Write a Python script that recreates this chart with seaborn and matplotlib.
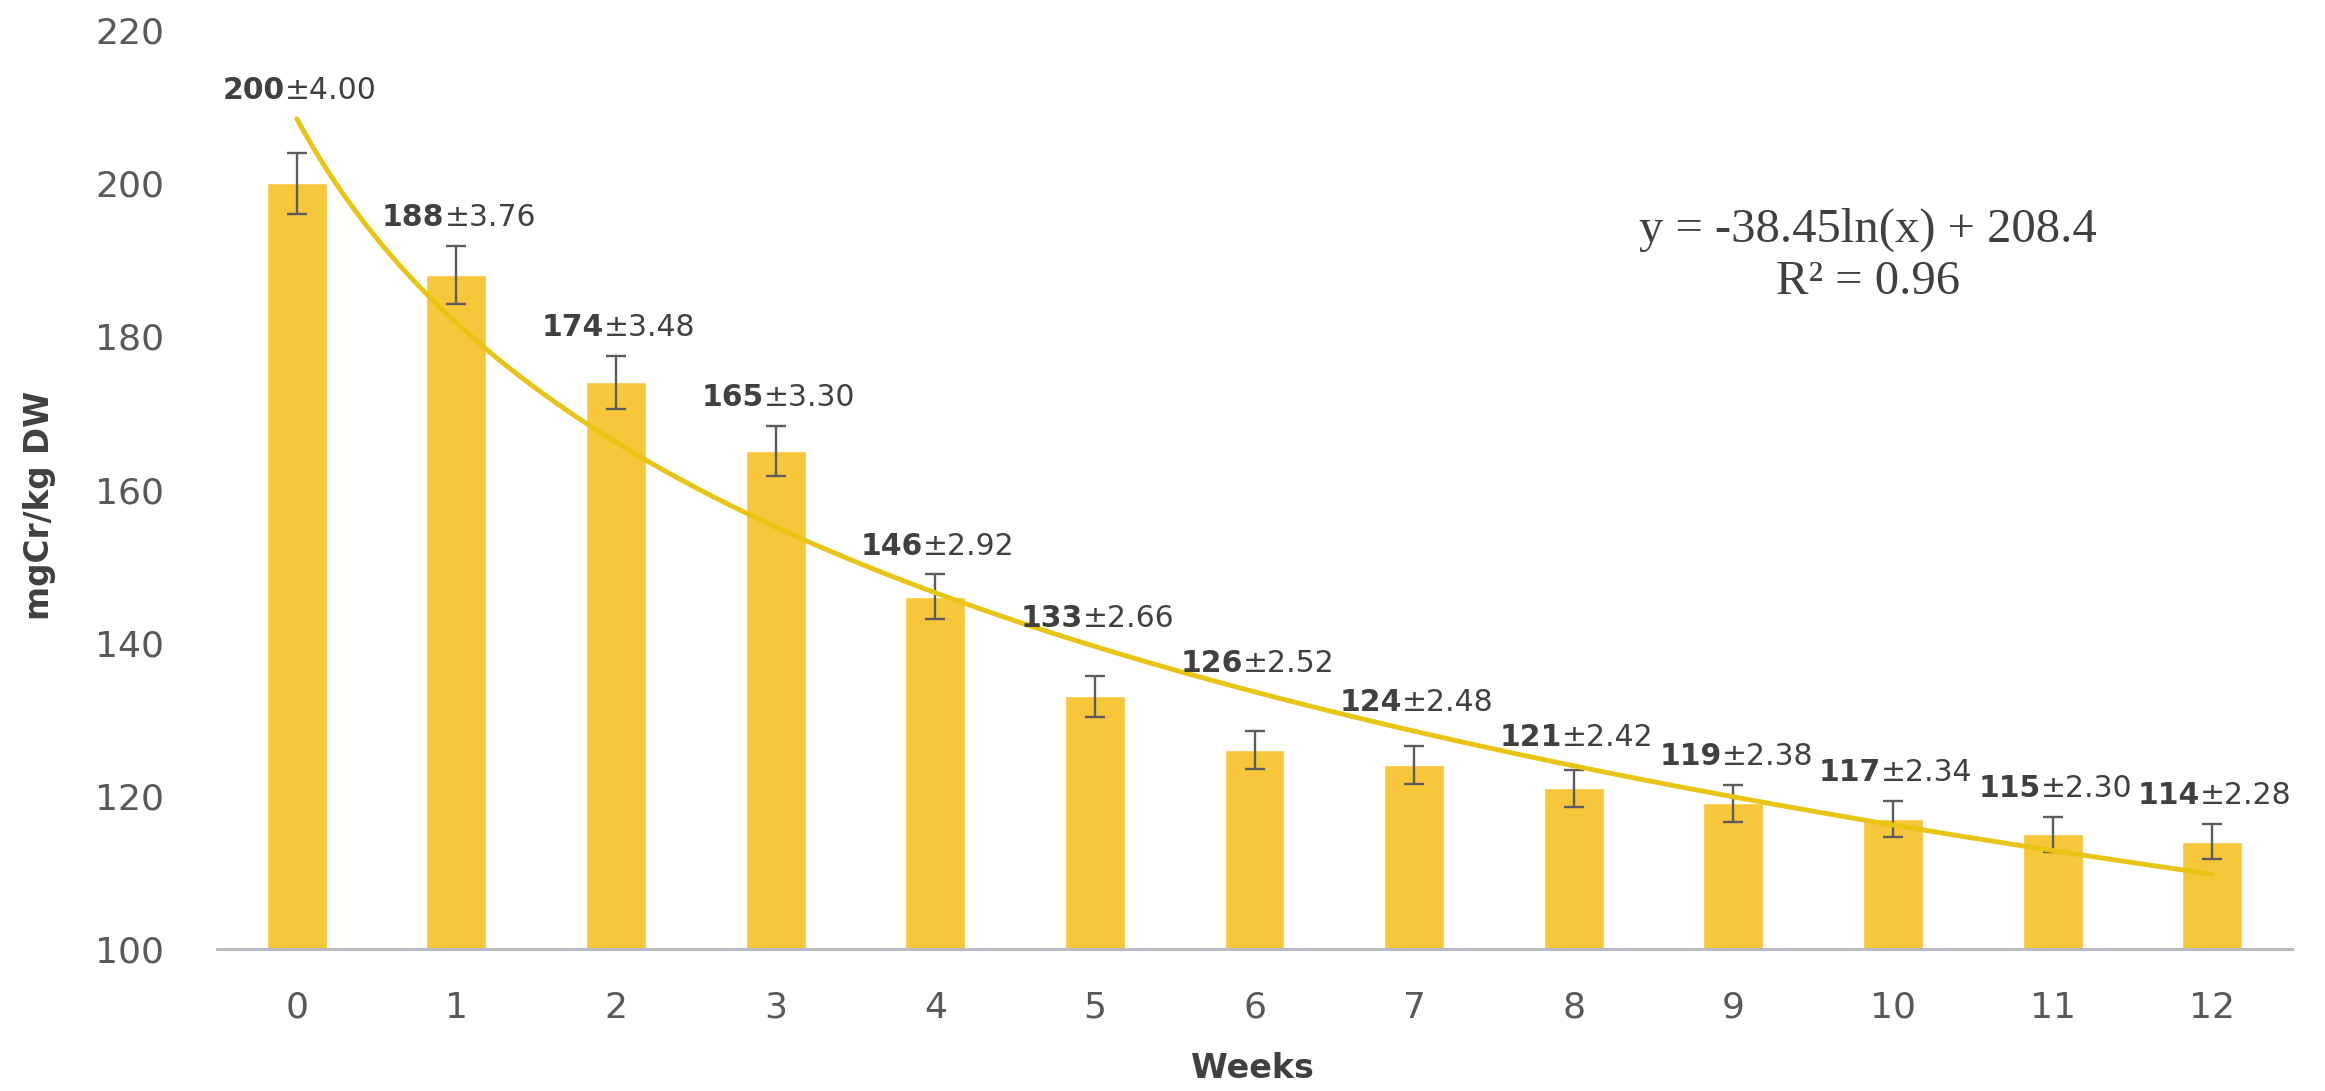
import numpy as np
import pandas as pd
import matplotlib
matplotlib.use("Agg")
import matplotlib.pyplot as plt
import seaborn as sns

# Chromium content per week (mean ± SD)
weeks = list(range(13))
cr_mean = [200, 188, 174, 165, 146, 133, 126, 124, 121, 119, 117, 115, 114]
cr_sd = [4.00, 3.76, 3.48, 3.30, 2.92, 2.66, 2.52, 2.48, 2.42, 2.38, 2.34, 2.30, 2.28]
y_ticks = [100, 120, 140, 160, 180, 200, 220]

# Logarithmic trendline y = a*ln(x) + b (x counted from 1)
trend_slope = -38.45
trend_intercept = 208.4
trend_r2 = 0.96

BAR_COLOR = "#F7C63A"
TREND_COLOR = "#E9C412"
TEXT_DARK = "#404040"
TICK_GREY = "#595959"

sns.set_theme(style="white")
plt.rcParams["font.family"] = ["DejaVu Sans"]

W, H = 2325, 1091
fig = plt.figure(figsize=(W / 100, H / 100), dpi=100)
fig.patch.set_facecolor("white")
ax_l, ax_r, ax_t, ax_b = 217, 2292, 30, 949
ax = fig.add_axes([ax_l / W, 1 - ax_b / H, (ax_r - ax_l) / W, (ax_b - ax_t) / H])

df = pd.DataFrame({"week": weeks, "mean": cr_mean, "sd": cr_sd})

sns.barplot(data=df, x="week", y="mean", color=BAR_COLOR, saturation=1,
            width=0.375, errorbar=None, ax=ax, zorder=2)

ax.errorbar(weeks, cr_mean, yerr=cr_sd, fmt="none", ecolor="#5c5c5c",
            elinewidth=1.7, capsize=7, capthick=1.7, zorder=3)

# Trendline over x = 1..13 (bar positions 0..12)
xs = np.linspace(1, len(weeks), 300)
ys = trend_slope * np.log(xs) + trend_intercept
sns.lineplot(x=xs - 1, y=ys, color=TREND_COLOR, linewidth=3.5, ax=ax, zorder=4)

# Value labels: bold mean + regular "±SD", kept clear of bar and trendline
for i, (m, s) in enumerate(zip(cr_mean, cr_sd)):
    trend_here = trend_slope * np.log(i + 1) + trend_intercept
    y_lab = max(m + s, trend_here) + 3.7
    t1 = ax.annotate(f"{m}", xy=(i, y_lab), xytext=(-8.6, 0),
                     textcoords="offset points", ha="right", va="center",
                     fontsize=21.5, fontweight="bold", color=TEXT_DARK, zorder=5)
    ax.annotate(f"±{s:.2f}", xy=(1, 0), xycoords=t1, ha="left", va="bottom",
                fontsize=21.5, color=TEXT_DARK, zorder=5)

ax.set_xlim(-0.5, len(weeks) - 0.5)
ax.set_ylim(y_ticks[0], y_ticks[-1])
ax.set_yticks(y_ticks)
ax.set_xticks(range(len(weeks)))
ax.set_xticklabels([str(w) for w in weeks])
ax.tick_params(axis="both", length=0, labelsize=26, labelcolor=TICK_GREY)
ax.tick_params(axis="y", pad=38)
ax.tick_params(axis="x", pad=30)

for side in ["top", "right", "left"]:
    ax.spines[side].set_visible(False)
ax.spines["bottom"].set_color("#B8BBC4")
ax.spines["bottom"].set_linewidth(2.2)
ax.grid(False)

ax.set_xlabel("Weeks", fontsize=24, fontweight="bold", color=TEXT_DARK)
ax.set_ylabel("mgCr/kg DW", fontsize=23.5, fontweight="bold", color=TEXT_DARK)
ax.xaxis.set_label_coords((1252 - ax_l) / (ax_r - ax_l), -(1068 - ax_b) / (ax_b - ax_t))
ax.xaxis.label.set_verticalalignment("center")
ax.yaxis.set_label_coords(-(ax_l - 40) / (ax_r - ax_l), (ax_b - 505) / (ax_b - ax_t))
ax.yaxis.label.set_verticalalignment("center")

# Trendline equation
fig.text(1868 / W, 1 - 230 / H, f"y = {trend_slope}ln(x) + {trend_intercept}",
         ha="center", va="center", fontsize=35, family="Liberation Serif",
         color=TEXT_DARK)
fig.text(1868 / W, 1 - 282 / H, f"R² = {trend_r2}",
         ha="center", va="center", fontsize=35, family="Liberation Serif",
         color=TEXT_DARK)

fig.savefig("out.png", dpi=100, facecolor="white")
